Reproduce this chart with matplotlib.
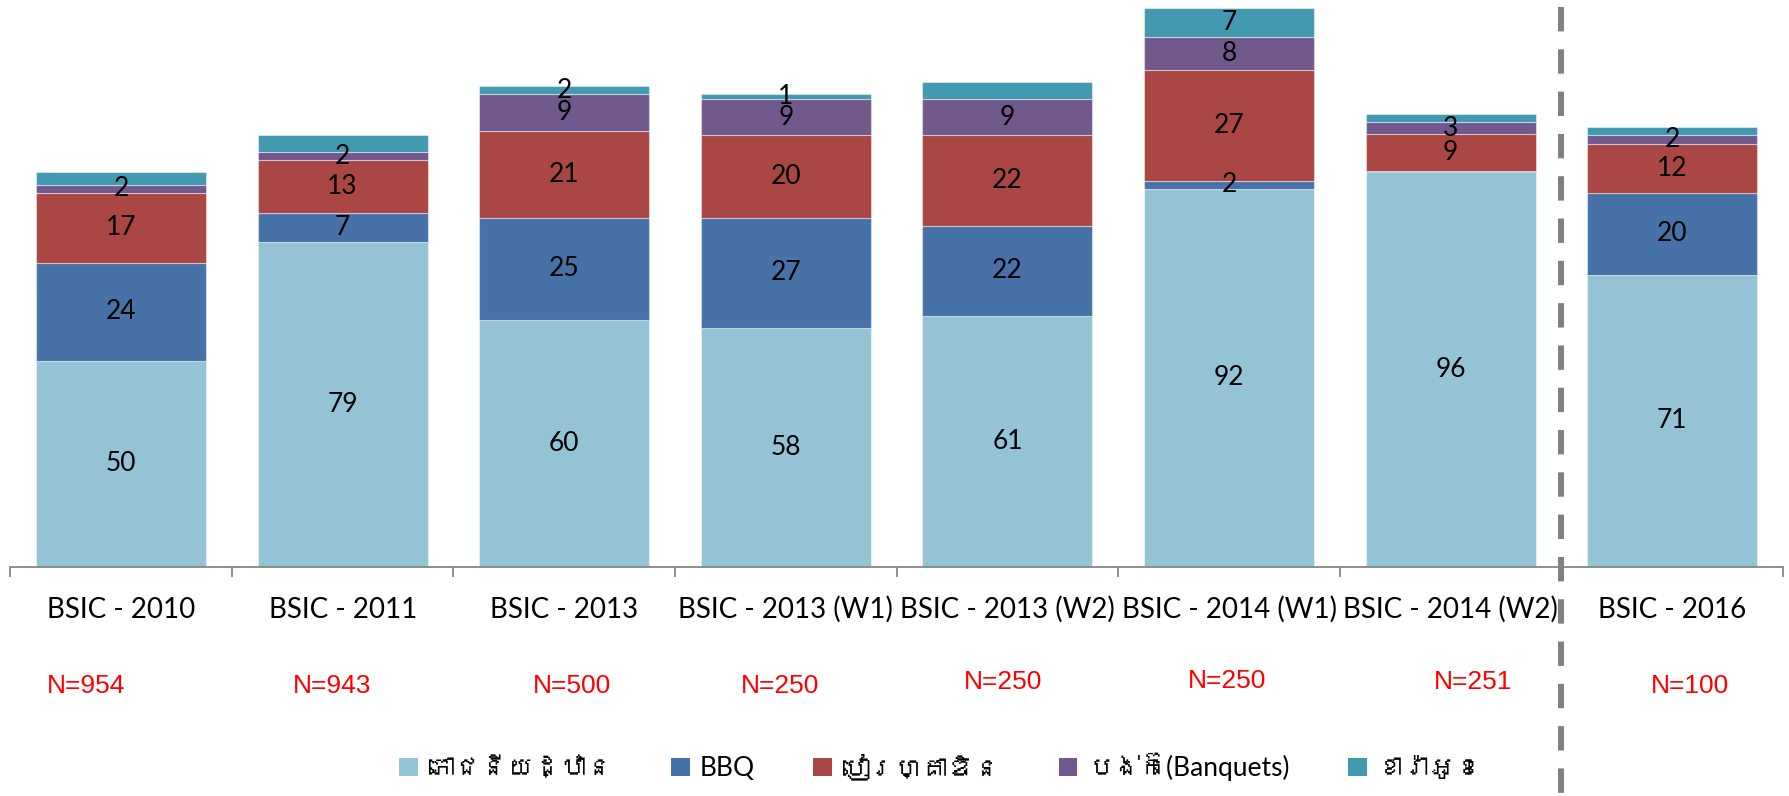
import matplotlib
matplotlib.use('Agg')
import matplotlib.pyplot as plt
from matplotlib import font_manager
from matplotlib.ft2font import FT2Font
from matplotlib.patches import Patch
import matplotlib.transforms as mtransforms
import numpy as np

# ---------------- data ----------------
categories = ['BSIC - 2010', 'BSIC - 2011', 'BSIC - 2013', 'BSIC - 2013 (W1)',
              'BSIC - 2013 (W2)', 'BSIC - 2014 (W1)', 'BSIC - 2014 (W2)', 'BSIC - 2016']
n_labels = ['N=954', 'N=943', 'N=500', 'N=250', 'N=250', 'N=250', 'N=251', 'N=100']
series_names = ['ភោជនីយដ្ឋាន', 'BBQ', 'បៀរហ្គាឌិន', 'បង់ក៊េ(Banquets)', 'ខារ៉ាអូខេ']

restaurant = [50, 79, 60, 58, 61, 92, 96, 71]
bbq        = [24, 7, 25, 27, 22, 2, 0.3, 20]
beer_garden = [17, 13, 21, 20, 22, 27, 9, 12]
banquets   = [2, 2, 9, 9, 9, 8, 3, 2]
karaoke    = [3, 4, 2, 1, 4, 7, 2, 2]

show_restaurant = [True] * 8
show_bbq        = [True, True, True, True, True, True, False, True]
show_beer       = [True] * 8
show_banquets   = [True] * 8
show_karaoke    = [False, False, True, True, False, True, False, False]

colors = ['#93C3D5', '#4672A8', '#AA4744', '#71598E', '#4299B0']

# N= label placement (offset from category centre, baseline pixel row)
n_offsets = [-0.156, -0.048, 0.035, -0.028, -0.018, -0.007, 0.10, 0.08]
n_baseline_px = [693, 693, 693, 693, 689, 688, 689, 693]

# ---------------- fonts ----------------
def find_font(ch):
    for fe in font_manager.fontManager.ttflist:
        try:
            if ord(ch) in FT2Font(fe.fname).get_charmap():
                return fe.name
        except Exception:
            pass
    return None

khmer = find_font('ភ')
base_family = ['Lato', 'DejaVu Sans']
legend_family = ['Lato'] + ([khmer] if khmer else []) + ['DejaVu Sans']

# ---------------- figure ----------------
W, H = 1789, 796
fig = plt.figure(figsize=(W / 100, H / 100), dpi=100)
base_px = 566.5
px_per_unit = 4.105
left_px, right_px = 10.3, 1783
ax = fig.add_axes([left_px / W, (H - base_px) / H, (right_px - left_px) / W, base_px / H])

x = np.arange(len(categories))
series = [restaurant, bbq, beer_garden, banquets, karaoke]
shows = [show_restaurant, show_bbq, show_beer, show_banquets, show_karaoke]
bottom = np.zeros(len(categories))
for vals, col, shw in zip(series, colors, shows):
    vals = np.array(vals, dtype=float)
    ax.bar(x, vals, bottom=bottom, width=0.767, color=col,
           edgecolor=(1, 1, 1, 0.45), linewidth=0.8, zorder=2)
    for xi, b, v, s in zip(x, bottom, vals, shw):
        if s:
            ax.text(xi, b + v / 2, f'{int(round(v))}', ha='center', va='center',
                    fontsize=19, family=base_family, color='black', zorder=3)
    bottom += vals

ax.set_xlim(-0.5, len(categories) - 0.5)
ax.set_ylim(0, base_px / px_per_unit)

for sp in ['left', 'right', 'top']:
    ax.spines[sp].set_visible(False)
ax.spines['bottom'].set_color('#868686')
ax.spines['bottom'].set_linewidth(1.3)
ax.set_yticks([])
ax.set_xticks(np.arange(-0.5, len(categories), 1.0))
ax.set_xticklabels([])
ax.tick_params(axis='x', length=7.5, width=1.3, color='#868686', direction='out')

trans = mtransforms.blended_transform_factory(ax.transData, ax.transAxes)
cat_base = -(618 - base_px) / base_px
for xi, c in zip(x, categories):
    ax.text(xi, cat_base, c, ha='center', va='baseline', fontsize=20,
            family=base_family, color='black', transform=trans)

for xi, lab, off, bpx in zip(x, n_labels, n_offsets, n_baseline_px):
    ax.text(xi + off, -(bpx - base_px) / base_px, lab, ha='center', va='baseline',
            fontsize=19, family=['Liberation Sans', 'DejaVu Sans'], color='#FF0000',
            transform=trans)

# dashed separator
ax.plot([6.5, 6.5], [(base_px - 7) / base_px, -(H - base_px) / base_px],
        transform=trans, color='#808080', lw=4.3, linestyle=(0, (24.5 / 6, 18 / 6)),
        solid_capstyle='butt', dash_capstyle='butt', clip_on=False, zorder=5)

# legend
handles = [Patch(facecolor=c, edgecolor='none') for c in colors]
leg = fig.legend(handles, series_names, loc='center', ncol=5,
                 bbox_to_anchor=(941 / W, (H - 767) / H), frameon=False,
                 prop={'family': legend_family, 'size': 19},
                 handlelength=0.7, handleheight=0.7, handletextpad=0.4,
                 columnspacing=2.2, borderaxespad=0)

fig.savefig('out.png', dpi=100)
